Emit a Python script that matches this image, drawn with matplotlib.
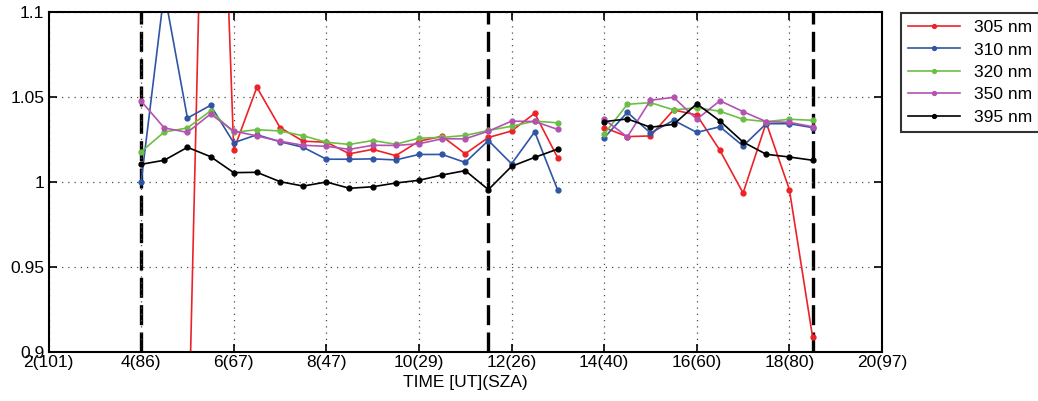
import numpy as np
import matplotlib
matplotlib.use("Agg")
import matplotlib.pyplot as plt

plt.rcParams["font.family"] = ["Liberation Sans", "DejaVu Sans"]

# time axis (UT hours), two observing blocks
t_am = [4.0, 4.5, 5.0, 5.5, 6.0, 6.5, 7.0, 7.5, 8.0, 8.5, 9.0, 9.5,
        10.0, 10.5, 11.0, 11.5, 12.0, 12.5, 13.0]
t_pm = [14.0, 14.5, 15.0, 15.5, 16.0, 16.5, 17.0, 17.5, 18.0, 18.5]

r305_am = [0.70, 0.72, 0.82, 1.40, 1.0188, 1.0557, 1.032, 1.024, 1.0234, 1.0166,
           1.0192, 1.0155, 1.024, 1.0269, 1.0166, 1.0262, 1.030, 1.0404, 1.0141]
r310_am = [1.000, 1.112, 1.0376, 1.0451, 1.0231, 1.0278, 1.0237, 1.0204, 1.0134, 1.0134,
           1.0136, 1.013, 1.0162, 1.0162, 1.0115, 1.0244, 1.0107, 1.0295, 0.995]
r320_am = [1.0178, 1.0294, 1.0318, 1.0418, 1.0292, 1.0308, 1.030, 1.0272, 1.0234, 1.0221,
           1.0244, 1.0222, 1.0258, 1.0262, 1.0274, 1.0303, 1.0328, 1.0358, 1.0348]
r350_am = [1.0476, 1.0318, 1.0292, 1.040, 1.030, 1.0271, 1.024, 1.0216, 1.021, 1.0192,
           1.0216, 1.0215, 1.0225, 1.0254, 1.0254, 1.0299, 1.0358, 1.0356, 1.0309]
r395_am = [1.0104, 1.0128, 1.0204, 1.0149, 1.0055, 1.0057, 1.0002, 0.9976, 1.000, 0.9963,
           0.9972, 0.9994, 1.001, 1.0041, 1.0067, 0.9955, 1.0092, 1.0145, 1.0194]

r305_pm = [1.032, 1.0267, 1.0271, 1.0424, 1.0394, 1.0186, 0.9935, 1.0349, 0.9955, 0.909]
r310_pm = [1.026, 1.041, 1.0288, 1.0363, 1.0292, 1.0325, 1.0212, 1.0343, 1.0343, 1.032]
r320_pm = [1.0282, 1.0457, 1.0467, 1.0424, 1.0437, 1.0416, 1.0369, 1.0355, 1.0369, 1.0363]
r350_pm = [1.0369, 1.0265, 1.0481, 1.0498, 1.0369, 1.0478, 1.0414, 1.0355, 1.0351, 1.0325]
r395_pm = [1.0355, 1.0371, 1.0322, 1.0339, 1.046, 1.0359, 1.0235, 1.0163, 1.0147, 1.0128]

labels = ["305 nm", "310 nm", "320 nm", "350 nm", "395 nm"]
colors = ["#ec2227", "#2f55a6", "#6cbf45", "#b452b1", "#000000"]
series_am = [r305_am, r310_am, r320_am, r350_am, r395_am]
series_pm = [r305_pm, r310_pm, r320_pm, r350_pm, r395_pm]

markers_t = [4.0, 11.5, 18.5]  # dashed boundary lines

xticks = [2, 4, 6, 8, 10, 12, 14, 16, 18, 20]
xticklabels = ["2(101)", "4(86)", "6(67)", "8(47)", "10(29)", "12(26)",
               "14(40)", "16(60)", "18(80)", "20(97)"]
yticks = [0.9, 0.95, 1.0, 1.05, 1.1]
yticklabels = ["0.9", "0.95", "1", "1.05", "1.1"]

fig = plt.figure(figsize=(10.38, 4.01), dpi=100)
ax = fig.add_axes([48.5 / 1038, 1 - 352 / 401, (882 - 48.5) / 1038, 340 / 401])

for tx in markers_t:
    ax.axvline(tx, color="black", lw=2.4, dashes=(6, 2.2), zorder=1.5)

handles = []
for lab, c, ya, yp in zip(labels, colors, series_am, series_pm):
    h, = ax.plot(t_am, ya, "-o", color=c, lw=1.2, ms=3.5, label=lab, zorder=2)
    ax.plot(t_pm, yp, "-o", color=c, lw=1.2, ms=3.5, zorder=2)
    handles.append(h)

ax.set_xlim(2, 20)
ax.set_ylim(0.9, 1.1)
ax.set_xticks(xticks)
ax.set_xticklabels(xticklabels)
ax.set_yticks(yticks)
ax.set_yticklabels(yticklabels)
ax.tick_params(direction="in", length=6, width=1.2, top=True, right=True,
               labelsize=12.5, pad=2)
ax.tick_params(axis="y", pad=3)
ax.grid(True, linestyle=(0, (1, 4)), color="0.3", lw=0.9)
for s in ax.spines.values():
    s.set_linewidth(1.5)
ax.set_xlabel("TIME [UT](SZA)", fontsize=12.5, labelpad=4)

leg = ax.legend(handles=handles, loc="upper left",
                bbox_to_anchor=(901 / 1038, 1 - 13 / 401),
                bbox_transform=fig.transFigure, borderaxespad=0,
                fancybox=False, edgecolor="black", fontsize=12.5,
                handlelength=3.0, labelspacing=0.42, markerscale=0.8)
leg.get_frame().set_linewidth(1.5)

fig.savefig("out.png", dpi=100)
